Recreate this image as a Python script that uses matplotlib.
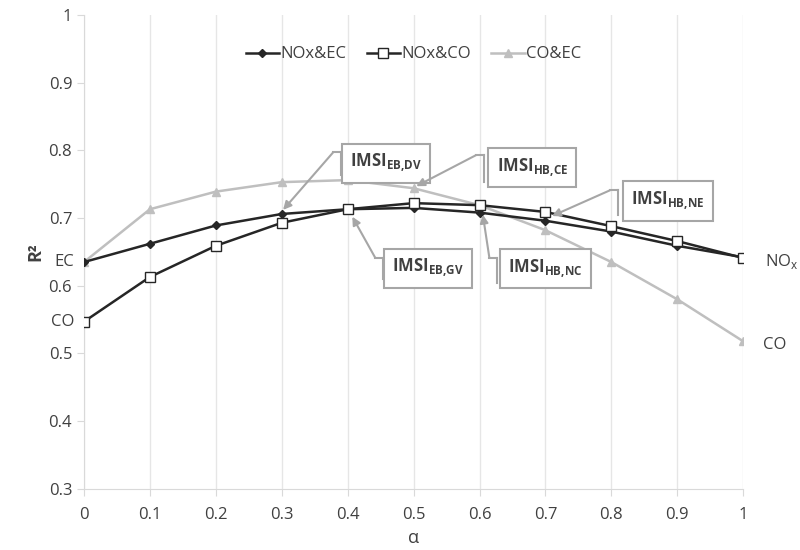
import numpy as np
import matplotlib.pyplot as plt

plt.rcParams['font.family'] = ['Open Sans', 'DejaVu Sans']
plt.rcParams['mathtext.fontset'] = 'custom'
plt.rcParams['mathtext.rm'] = 'Open Sans'
plt.rcParams['mathtext.bf'] = 'Open Sans:bold'

alpha = [0, 0.1, 0.2, 0.3, 0.4, 0.5, 0.6, 0.7, 0.8, 0.9, 1.0]
nox_ec = [0.635, 0.662, 0.689, 0.706, 0.713, 0.715, 0.708, 0.696, 0.680, 0.659, 0.642]
nox_co = [0.547, 0.613, 0.659, 0.693, 0.713, 0.722, 0.719, 0.709, 0.688, 0.666, 0.641]
co_ec = [0.635, 0.713, 0.739, 0.753, 0.756, 0.744, 0.719, 0.682, 0.635, 0.580, 0.518]

# label, box centre, bracket x, bracket y range, arrow tip
callouts = [
    ('EB{,}DV', (0.458, 0.781), 0.390, (0.764, 0.797), (0.302, 0.712)),
    ('HB{,}CE', (0.680, 0.775), 0.607, (0.753, 0.793), (0.504, 0.747)),
    ('HB{,}NE', (0.886, 0.725), 0.810, (0.705, 0.741), (0.710, 0.703)),
    ('EB{,}GV', (0.522, 0.626), 0.454, (0.610, 0.641), (0.407, 0.702)),
    ('HB{,}NC', (0.700, 0.625), 0.627, (0.604, 0.641), (0.605, 0.705)),
]

dark = '#262626'
grey = '#bfbfbf'
txt = '#404040'

fig = plt.figure(figsize=(8, 5.5), dpi=100)
ax = fig.add_axes([0.105, 0.111, 0.824, 0.862])

ax.plot(alpha, nox_ec, color=dark, lw=1.8, marker='D', ms=4, label='NOx&EC', zorder=4)
ax.plot(alpha, nox_co, color=dark, lw=1.8, marker='s', ms=7, mfc='white', mec=dark,
        mew=1, label='NOx&CO', zorder=5)
ax.plot(alpha, co_ec, color=grey, lw=1.8, marker='^', ms=6, label='CO&EC', zorder=3)

ax.set_xlim(0, 1)
ax.set_ylim(0.3, 1)
ax.set_xticks(np.arange(0, 1.01, 0.1))
ax.set_xticklabels(['0', '0.1', '0.2', '0.3', '0.4', '0.5', '0.6', '0.7', '0.8', '0.9', '1'])
ax.set_yticks(np.arange(0.3, 1.01, 0.1))
ax.set_yticklabels(['0.3', '0.4', '0.5', '0.6', '0.7', '0.8', '0.9', '1'])
ax.tick_params(colors='#d9d9d9', labelcolor=txt, labelsize=12, length=5)
ax.tick_params(axis='x', pad=8)
ax.grid(axis='x', color='#e6e6e6', lw=1)
for s in ['top', 'right']:
    ax.spines[s].set_visible(False)
ax.spines['left'].set_color('#d9d9d9')
ax.spines['bottom'].set_color('#d9d9d9')

ax.set_xlabel('α', color=txt, fontsize=13, labelpad=4)
ax.set_ylabel('R²', color=txt, fontsize=13, fontweight='bold')
ax.yaxis.set_label_coords(-0.06, 0.5)

ax.legend(loc='upper center', bbox_to_anchor=(0.5, 0.965), ncol=3, frameon=False,
          fontsize=12, handlelength=2.0, handletextpad=0.1, columnspacing=1.2,
          labelcolor=txt)

# end labels
ax.text(-0.015, nox_ec[0], 'EC', ha='right', va='center', fontsize=12, color=txt, clip_on=False)
ax.text(-0.015, nox_co[0], 'CO', ha='right', va='center', fontsize=12, color=txt, clip_on=False)
ax.text(1.033, nox_ec[-1] - 0.006, r'NO$_\mathregular{x}$', ha='left', va='center', fontsize=12,
        color=txt, clip_on=False)
ax.text(1.03, co_ec[-1] - 0.006, 'CO', ha='left', va='center', fontsize=12, color=txt, clip_on=False)

box_grey = '#a6a6a6'
for lab, (cx, cy), bx, (by0, by1), tip in callouts:
    ax.text(cx, cy, r'$\mathbf{IMSI}_{\mathbf{%s}}$' % lab, ha='center', va='center',
            fontsize=12, color=txt, zorder=6,
            bbox=dict(boxstyle='square,pad=0.5', fc='white', ec=box_grey, lw=1.5))
    ax.plot([bx, bx], [by0, by1], color=box_grey, lw=1.5, zorder=6)
    ax.plot([bx - 0.012, bx], [by1, by1], color=box_grey, lw=1.5, zorder=6)
    ax.annotate('', xy=tip, xytext=(bx - 0.012, by1),
                arrowprops=dict(arrowstyle='-|>', color=box_grey, lw=1.5,
                                mutation_scale=12, shrinkA=0, shrinkB=0), zorder=6)

fig.savefig('out.png', dpi=100)
